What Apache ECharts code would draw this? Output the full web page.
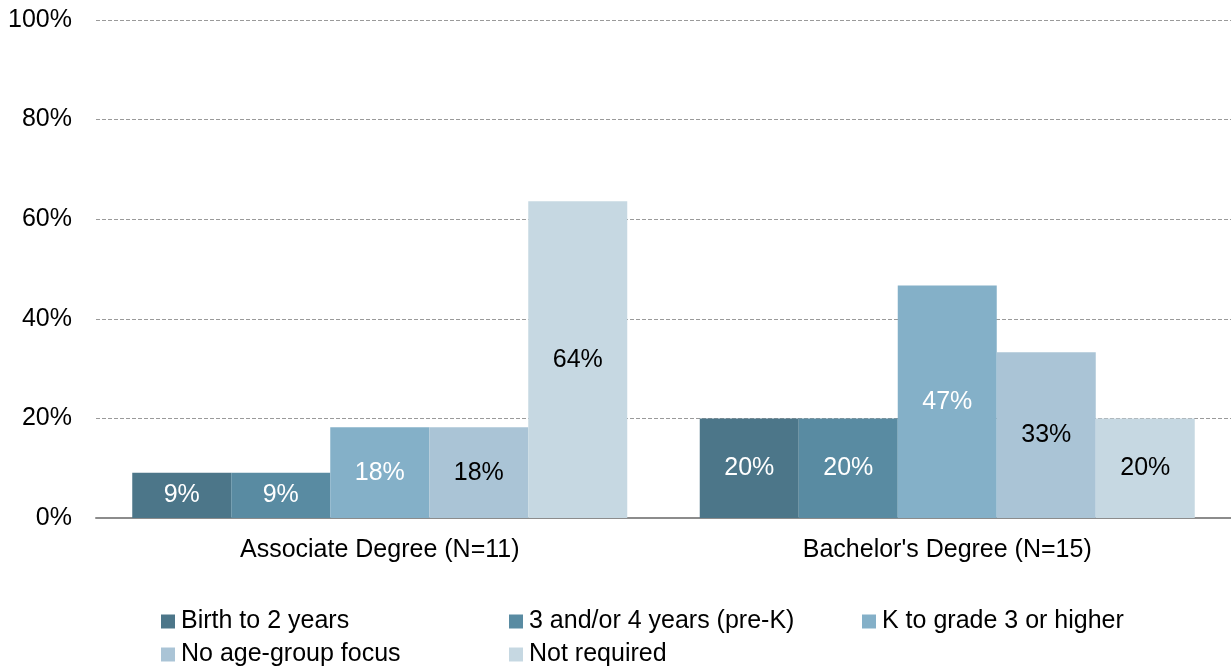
<!DOCTYPE html>
<html>
<head>
<meta charset="utf-8">
<script src="https://cdn.jsdelivr.net/npm/echarts@6/dist/echarts.min.js"></script>
<style>
  html, body { margin: 0; padding: 0; background: #fff; }
  #chart { width: 1231px; height: 669px; }
</style>
</head>
<body>
<div id="chart"></div>
<script>
const categories = ['Associate Degree (N=11)', "Bachelor's Degree (N=15)"]
const seriesNames = ['Birth to 2 years', '3 and/or 4 years (pre-K)', 'K to grade 3 or higher', 'No age-group focus', 'Not required']
const birthTo2 = [9.1, 20]
const preK = [9.1, 20]
const kTo3 = [18.2, 46.7]
const noFocus = [18.2, 33.3]
const notRequired = [63.6, 20]
const yTicks = [0, 20, 40, 60, 80, 100]

const colors = ['#4c7689', '#598ba2', '#84b0c8', '#aac4d6', '#c6d8e2']
const labelColors = ['#fff', '#fff', '#fff', '#000', '#000']
const values = [birthTo2, preK, kTo3, noFocus, notRequired]
const font = 'Liberation Sans, Arial, Helvetica, sans-serif'
const fs = 25

// legend spots: [left, top] for each series
const legendSpots = [[161, 609], [509, 609], [862, 609], [161, 642], [509, 642]]

const chart = echarts.init(document.getElementById('chart'))

chart.setOption({
  animation: false,
  grid: { left: 96, right: 0, top: 20, bottom: 151 },
  legend: seriesNames.map((name, i) => ({
    data: [name],
    left: legendSpots[i][0],
    top: legendSpots[i][1],
    padding: 0,
    itemWidth: 14,
    itemHeight: 14,
    icon: 'rect',
    textStyle: { fontFamily: font, fontSize: fs, color: '#000', padding: [0, 0, 0, 1] }
  })),
  xAxis: {
    type: 'category',
    data: categories,
    axisTick: { show: false },
    axisLine: { lineStyle: { color: '#8c8c8c', width: 2 } },
    axisLabel: { fontFamily: font, fontSize: fs, color: '#000', margin: 20 }
  },
  yAxis: {
    type: 'value',
    min: yTicks[0],
    max: yTicks[yTicks.length - 1],
    interval: 20,
    axisLine: { show: false },
    axisTick: { show: false },
    axisLabel: { fontFamily: font, fontSize: fs, color: '#000', margin: 24, formatter: v => v + '%' },
    splitLine: { lineStyle: { color: '#9a9a9a', type: [4, 2], width: 1 } }
  },
  series: seriesNames.map((name, i) => ({
    name,
    type: 'bar',
    data: values[i],
    barWidth: 99,
    barGap: '0%',
    itemStyle: { color: colors[i] },
    label: {
      show: true,
      position: 'inside',
      fontFamily: font,
      fontSize: fs,
      color: labelColors[i],
      formatter: p => Math.round(p.value) + '%'
    }
  }))
})
</script>
</body>
</html>
